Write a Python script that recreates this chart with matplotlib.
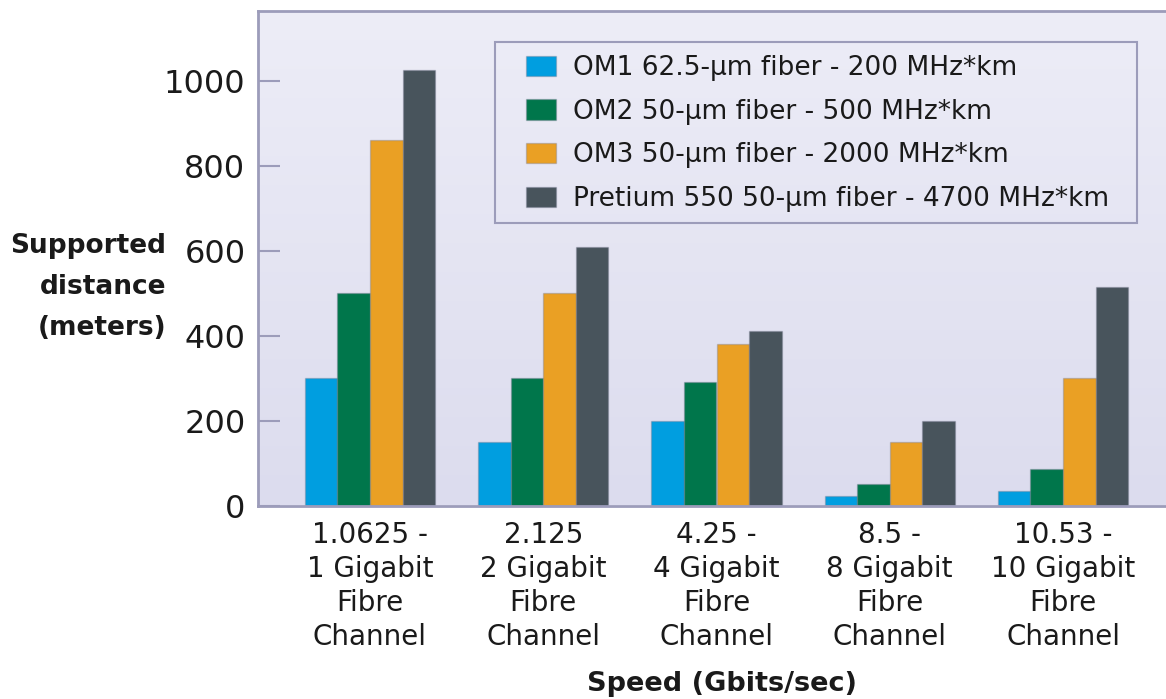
import numpy as np
import matplotlib
matplotlib.use("Agg")
import matplotlib.pyplot as plt
from matplotlib.colors import LinearSegmentedColormap
from matplotlib.patches import Rectangle

plt.rcParams['font.family'] = ['DejaVu Sans']

categories = ["1.0625 -\n1 Gigabit\nFibre\nChannel",
              "2.125\n2 Gigabit\nFibre\nChannel",
              "4.25 -\n4 Gigabit\nFibre\nChannel",
              "8.5 -\n8 Gigabit\nFibre\nChannel",
              "10.53 -\n10 Gigabit\nFibre\nChannel"]
series_names = ["OM1 62.5-\u00b5m fiber - 200 MHz*km",
                "OM2 50-\u00b5m fiber - 500 MHz*km",
                "OM3 50-\u00b5m fiber - 2000 MHz*km",
                "Pretium 550 50-\u00b5m fiber - 4700 MHz*km"]
om1 = [300, 150, 200, 22, 35]
om2 = [500, 300, 290, 50, 87]
om3 = [860, 500, 380, 150, 300]
pretium = [1025, 610, 410, 200, 515]
y_ticks = [0, 200, 400, 600, 800, 1000]

colors = ["#009ee0", "#00764b", "#eaa024", "#48545c"]
text_color = "#1a1a1a"
spine_color = "#9c9cba"

W, H = 1166, 699
fig = plt.figure(figsize=(W / 100, H / 100), dpi=100)
fig.patch.set_facecolor("white")
ax_w = (W - 258) / W + 0.01
ax = fig.add_axes([258 / W, 1 - 505.5 / H, ax_w, (505.5 - 11) / H])

# gradient background
cmap = LinearSegmentedColormap.from_list("bg", ["#dcdcee", "#ededf7"])
grad = np.linspace(0, 1, 256).reshape(-1, 1)
ax.imshow(grad, extent=[0, 1, 0, 1], transform=ax.transAxes, cmap=cmap,
          aspect="auto", origin="lower", zorder=0)
ax.set_facecolor("none")

x = np.arange(len(categories))
bw = 0.1876
all_series = [om1, om2, om3, pretium]
for i, (vals, c, name) in enumerate(zip(all_series, colors, series_names)):
    ax.bar(x + (i - 1.5) * bw, vals, width=bw, color=c, label=name,
           edgecolor=(0.45, 0.47, 0.55, 0.35), linewidth=1.0, zorder=2)

ax.set_xlim((258 - 370) / 173.25, (258 + ax_w * W - 370) / 173.25)
ax.set_ylim(0, 1165)

ax.set_yticks(y_ticks)
ax.set_yticklabels([str(t) for t in y_ticks], fontsize=23, color=text_color)
ax.tick_params(axis='y', direction='in', length=16, width=1.5, color=spine_color, pad=9)
ax.set_xticks(x)
ax.set_xticklabels(categories, fontsize=20, color=text_color, linespacing=1.27)
ax.tick_params(axis='x', length=0, pad=11)

for s in ['left', 'top', 'bottom']:
    ax.spines[s].set_color(spine_color)
    ax.spines[s].set_linewidth(2)
ax.spines['right'].set_visible(False)

# legend frame drawn separately
fig.patches.append(Rectangle((495 / W, 1 - 223 / H), (1137 - 495) / W, (223 - 42) / H,
                             transform=fig.transFigure, facecolor="none",
                             edgecolor=spine_color, linewidth=1.5, zorder=5))
leg = fig.legend(*ax.get_legend_handles_labels(), loc='upper left',
                 bbox_to_anchor=(526 / W, 1 - 55 / H), borderaxespad=0,
                 fontsize=19, frameon=False, handlelength=1.14,
                 handleheight=0.8, handletextpad=0.64, labelspacing=0.67,
                 borderpad=0, labelcolor=text_color)

fig.text(722 / W, 1 - 684 / H, "Speed (Gbits/sec)", fontsize=19.5, fontweight='bold',
         ha='center', va='center', color=text_color)
fig.text(166 / W, 1 - 287 / H, "Supported\ndistance\n(meters)", fontsize=19,
         fontweight='bold', ha='right', va='center', multialignment='right',
         linespacing=1.75, color=text_color)

fig.savefig("out.png", dpi=100)
